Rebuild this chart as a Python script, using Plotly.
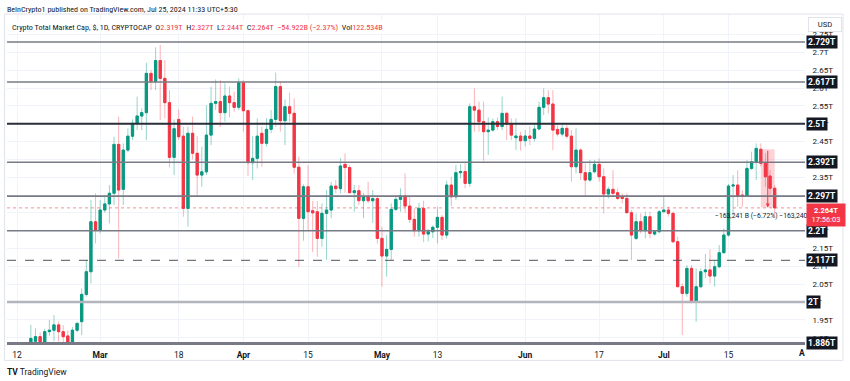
import pandas as pd
import plotly.graph_objects as go

# ---------------- data ----------------
dates = pd.date_range("2024-02-15", "2024-07-25", freq="D")

opens = [1.884,1.89,1.903,1.884,1.917,1.921,1.936,1.917,1.905,1.884,1.921,1.945,2.0215,2.085,2.225,
         2.202,2.258,2.275,2.305,2.442,2.316,2.426,2.465,2.501,2.5215,2.531,2.641,2.618,2.677,2.627,
         2.559,2.4056,2.512,2.465,2.2626,2.473,2.417,2.356,2.365,2.468,2.557,2.562,2.531,2.5776,2.559,
         2.5458,2.6149,2.5364,2.3906,2.4028,2.473,2.445,2.4841,2.512,2.604,2.5084,2.5476,2.529,2.378,
         2.2346,2.3233,2.256,2.253,2.1785,2.2486,2.258,2.325,2.318,2.386,2.377,2.3066,2.312,2.2841,
         2.295,2.2841,2.29,2.1785,2.129,2.1476,2.2598,2.2878,2.2972,2.2691,2.2318,2.2,2.2626,2.1906,
         2.197,2.2095,2.2374,2.1878,2.328,2.295,2.3626,2.366,2.3327,2.5476,2.538,2.5056,2.4776,2.482,
         2.5056,2.492,2.529,2.499,2.4607,2.4654,2.4523,2.4654,2.459,2.485,2.5458,2.5729,2.5551,2.484,
         2.471,2.4869,2.465,2.3794,2.426,2.3626,2.342,2.3654,2.386,2.3514,2.3028,2.3159,2.3065,2.2953,
         2.2906,2.2505,2.1785,2.2252,2.2,2.2392,2.1906,2.1972,2.2533,2.2579,2.2486,2.1691,2.043,2.0243,
         2.0944,2.0009,2.043,2.085,2.09,2.0729,2.099,2.1383,2.1878,2.3252,2.328,2.30,2.2972,2.3747,
         2.3934,2.4283,2.3888,2.3533,2.319]
highs = [1.936,1.926,1.915,1.925,1.95,1.964,1.945,1.935,1.92,1.93,1.945,2.038,2.1177,2.286,2.305,
         2.286,2.295,2.328,2.4635,2.5196,2.445,2.487,2.512,2.576,2.543,2.671,2.6505,2.714,2.7205,2.6785,
         2.594,2.512,2.54,2.4916,2.4916,2.52,2.465,2.4355,2.552,2.604,2.624,2.622,2.613,2.604,2.5897,
         2.6271,2.622,2.54,2.465,2.515,2.4916,2.515,2.538,2.643,2.618,2.568,2.587,2.571,2.4075,
         2.33,2.384,2.2832,2.283,2.2766,2.314,2.337,2.342,2.403,2.417,2.384,2.328,2.328,2.306,
         2.337,2.314,2.295,2.211,2.1878,2.2766,2.30,2.319,2.3607,2.295,2.2626,2.278,2.284,2.205,
         2.215,2.2673,2.244,2.34,2.351,2.384,2.387,2.389,2.557,2.599,2.562,2.562,2.5177,2.515,
         2.518,2.576,2.534,2.515,2.515,2.4776,2.482,2.492,2.496,2.562,2.599,2.594,2.594,2.496,
         2.501,2.496,2.482,2.487,2.431,2.3888,2.3981,2.398,2.4028,2.3747,2.3233,2.37,2.3187,2.3047,
         2.3047,2.2579,2.2486,2.2486,2.2533,2.2533,2.2,2.2579,2.2972,2.2673,2.2533,2.1832,2.0523,2.1037,
         2.1037,2.0944,2.0944,2.1346,2.1476,2.1177,2.1598,2.2065,2.3308,2.3561,2.37,2.3141,2.3981,2.4215,
         2.4448,2.4448,2.4168,2.37,2.327]
lows = [1.87,1.875,1.87,1.878,1.905,1.89,1.89,1.885,1.87,1.88,1.915,1.9075,2.015,2.052,2.1645,
        2.1925,2.25,2.2205,2.272,2.1224,2.272,2.42,2.454,2.482,2.482,2.454,2.594,2.594,2.51,2.515,
        2.3776,2.356,2.454,2.239,2.211,2.40,2.298,2.323,2.356,2.44,2.538,2.491,2.5056,2.5177,2.5336,
        2.538,2.4776,2.3533,2.342,2.3747,2.379,2.436,2.473,2.4916,2.4776,2.44,2.5056,2.36,2.099,
        2.172,2.202,2.14,2.127,2.155,2.118,2.235,2.305,2.305,2.306,2.305,2.253,2.272,2.235,
        2.277,2.222,2.164,2.043,2.071,2.118,2.255,2.253,2.25,2.222,2.183,2.183,2.168,2.17,
        2.18,2.1645,2.174,2.178,2.2691,2.286,2.347,2.319,2.323,2.4776,2.4776,2.3962,2.4121,2.4776,
        2.482,2.482,2.454,2.454,2.426,2.4243,2.436,2.44,2.45,2.482,2.5243,2.529,2.426,2.464,
        2.464,2.459,2.3374,2.3607,2.342,2.298,2.3374,2.3607,2.3374,2.2486,2.2906,2.2953,2.286,2.2766,
        2.2486,2.1177,2.1738,2.1925,2.1785,2.1785,2.186,2.1925,2.2505,2.2392,2.1645,2.043,1.9075,2.0149,
        1.9962,1.9448,2.0383,2.0663,2.0523,2.043,2.0944,2.1364,2.1832,2.2439,2.2673,2.2673,2.2953,2.37,
        2.342,2.3794,2.3233,2.2953,2.244]
closes = [1.898,1.903,1.884,1.917,1.921,1.936,1.917,1.903,1.884,1.921,1.94,2.0215,2.085,2.225,2.202,
          2.258,2.275,2.305,2.442,2.314,2.426,2.465,2.501,2.5215,2.531,2.641,2.618,2.677,2.627,2.559,
          2.4056,2.486,2.4635,2.2626,2.473,2.417,2.356,2.365,2.468,2.557,2.562,2.531,2.5776,2.559,2.5458,
          2.6149,2.5364,2.3906,2.4028,2.465,2.445,2.4841,2.512,2.604,2.5084,2.5476,2.529,2.378,2.2346,
          2.3233,2.2533,2.25,2.1785,2.2486,2.258,2.325,2.318,2.3813,2.377,2.3066,2.312,2.2841,2.295,
          2.2841,2.29,2.1785,2.129,2.1476,2.2598,2.2878,2.2972,2.2691,2.2318,2.2,2.2626,2.1906,2.197,
          2.2095,2.2374,2.1878,2.328,2.295,2.3626,2.366,2.3327,2.5476,2.538,2.5056,2.4776,2.482,2.5056,
          2.492,2.529,2.499,2.468,2.4654,2.4523,2.4654,2.459,2.485,2.5458,2.5729,2.5551,2.482,2.471,
          2.4869,2.465,2.3794,2.426,2.3626,2.342,2.3626,2.386,2.3514,2.3028,2.3159,2.3047,2.2906,2.2906,
          2.2505,2.1878,2.2252,2.2,2.2392,2.1925,2.1972,2.2533,2.2579,2.2486,2.1691,2.043,2.0243,2.0944,
          2.0009,2.043,2.085,2.09,2.0729,2.099,2.1383,2.1878,2.3252,2.328,2.2972,2.2972,2.3747,2.3934,
          2.4308,2.3888,2.3514,2.319,2.264]

level_values = [2.729, 2.617, 2.5, 2.392, 2.297, 2.2, 2.117, 2.0, 1.886]
level_labels = ["2.729T", "2.617T", "2.5T", "2.392T", "2.297T", "2.2T", "2.117T", "2T", "1.886T"]

x_tick_dates = ["2024-02-12", "2024-03-01", "2024-03-18", "2024-04-01", "2024-04-15", "2024-05-01",
                "2024-05-13", "2024-06-01", "2024-06-17", "2024-07-01", "2024-07-15"]
x_tick_text = ["12", "<b>Mar</b>", "18", "<b>Apr</b>", "15", "<b>May</b>", "13", "<b>Jun</b>", "17",
               "<b>Jul</b>", "15"]
y_tick_values = [1.9, 1.95, 2.0, 2.05, 2.1, 2.15, 2.2, 2.25, 2.3, 2.35, 2.4, 2.45, 2.5, 2.55, 2.6,
                 2.65, 2.7, 2.75]

range_top = 2.4283
range_bottom = 2.2651
range_start = "2024-07-22"
range_end = "2024-07-25"
range_label = "−163,241 B (−6.72%) −163,240,510"
change_text = "−54.922B (−2.37%)"
volume_text = "122.534B"
countdown = "17:56:03"

assert len(opens) == len(highs) == len(lows) == len(closes) == len(dates)

# ---------------- figure ----------------
GREEN = "#089981"
RED = "#F23645"
FONT = "Roboto"
NARROW = "Liberation Sans Narrow, Roboto Condensed, Roboto"

fig = go.Figure()

# wicks (lighter)
fig.add_trace(go.Candlestick(
    x=dates, open=opens, high=highs, low=lows, close=closes,
    increasing=dict(line=dict(color="rgba(8,153,129,0.42)", width=1), fillcolor="rgba(8,153,129,0.42)"),
    decreasing=dict(line=dict(color="rgba(242,54,69,0.38)", width=1), fillcolor="rgba(242,54,69,0.38)"),
    whiskerwidth=0, showlegend=False, hoverinfo="skip"))

# bodies (solid)
body_hi = [max(o, c) for o, c in zip(opens, closes)]
body_lo = [min(o, c) for o, c in zip(opens, closes)]
fig.add_trace(go.Candlestick(
    x=dates, open=opens, high=body_hi, low=body_lo, close=closes,
    increasing=dict(line=dict(color=GREEN, width=1), fillcolor=GREEN),
    decreasing=dict(line=dict(color=RED, width=1), fillcolor=RED),
    whiskerwidth=0, showlegend=False))

shapes = []
# measurement rectangle
shapes.append(dict(type="rect", xref="x", yref="y", x0=range_start, x1=range_end,
                   y0=range_bottom, y1=range_top, fillcolor="rgba(242,54,69,0.22)",
                   line=dict(width=0), layer="above"))
# level lines
for v in level_values:
    if v == 2.5:
        ln = dict(color="#2a2e39", width=2)
    elif v == 2.0:
        ln = dict(color="#b2b5be", width=2.5)
    elif v == 2.117:
        ln = dict(color="#50535e", width=1, dash="dash")
    else:
        ln = dict(color="#787b86", width=1.6)
    shapes.append(dict(type="line", xref="paper", yref="y", x0=0, x1=1, y0=v, y1=v,
                       line=ln, layer="above"))
# current price dotted line
shapes.append(dict(type="line", xref="paper", yref="y", x0=0, x1=1, y0=closes[-1], y1=closes[-1],
                   line=dict(color="rgba(242,54,69,0.55)", width=1, dash="dot"), layer="below"))
# panel border
shapes.append(dict(type="rect", xref="paper", yref="paper", x0=-0.003, x1=1.0476, y0=-0.053, y1=1.003,
                   line=dict(color="#e0e3eb", width=1), fillcolor="rgba(0,0,0,0)", layer="below"))

annotations = []
# measurement arrow and label (drawn first so axis labels cover any overflow)
annotations.append(dict(xref="x", yref="y", x="2024-07-23 12:00", y=range_bottom,
                        axref="x", ayref="y", ax="2024-07-23 12:00", ay=range_top,
                        showarrow=True, arrowhead=2, arrowsize=0.8, arrowwidth=1, arrowcolor=RED, text=""))
annotations.append(dict(xref="x", yref="y", x="2024-07-23 12:00", y=range_bottom, yanchor="top",
                        yshift=-3, text=range_label, showarrow=False,
                        font=dict(color="#131722", size=6.8, family=FONT)))
# right axis level labels
for v, t in zip(level_values, level_labels):
    annotations.append(dict(xref="paper", yref="y", x=1, y=v, xanchor="left", yanchor="middle",
                            xshift=1, text=f"<b>{t}</b>", showarrow=False, bgcolor="#131722",
                            font=dict(color="white", size=8.5, family=FONT), borderpad=1))
# current price label (on top)
annotations.append(dict(xref="paper", yref="y", x=1, y=closes[-1], xanchor="left", yanchor="top",
                        yshift=5, xshift=1, width=36, height=20,
                        text=f"<b>{closes[-1]:.3f}T</b><br>{countdown}", showarrow=False,
                        bgcolor=RED, font=dict(color="white", size=7.5, family=FONT), borderpad=1,
                        align="center"))
# USD box
annotations.append(dict(xref="paper", yref="paper", x=1.004, y=0.97, xanchor="left", yanchor="middle",
                        text="USD", showarrow=False, bgcolor="white", bordercolor="#e0e3eb",
                        borderwidth=1, borderpad=2, width=28,
                        font=dict(color="#131722", size=7.5, family=FONT)))
# header lines
annotations.append(dict(xref="paper", yref="paper", x=-0.002, y=1.018, xanchor="left", yanchor="middle",
                        text="BeInCrypto1 published on TradingView.com, Jul 25, 2024 11:33 UTC+5:30",
                        showarrow=False, font=dict(color="#131722", size=8, family=NARROW)))
red = lambda s: f"<span style='color:{RED}'>{s}</span>"
legend_text = ("Crypto Total Market Cap, $, 1D, CRYPTOCAP  "
               f"O{red(f'{opens[-1]:.3f}T')}  H{red(f'{highs[-1]:.3f}T')}  "
               f"L{red(f'{lows[-1]:.3f}T')}  C{red(f'{closes[-1]:.3f}T')}  "
               f"{red(change_text)}  Vol{red(volume_text)}")
annotations.append(dict(xref="paper", yref="paper", x=0.004, y=0.963, xanchor="left", yanchor="middle",
                        text=legend_text, showarrow=False, bgcolor="white",
                        font=dict(color="#131722", size=8.1, family=NARROW)))
# cut-off August label
annotations.append(dict(xref="paper", yref="paper", x=0.996, y=-0.03, xanchor="center", yanchor="middle",
                        text="<b>A</b>", showarrow=False, font=dict(color="#131722", size=8.5, family=FONT)))
# TradingView logo text
annotations.append(dict(xref="paper", yref="paper", x=-0.002, y=-0.087, xanchor="left", yanchor="middle",
                        text="<b>TV</b> TradingView", showarrow=False,
                        font=dict(color="#131722", size=8.5, family=FONT)))

fig.update_layout(
    width=850, height=381,
    margin=dict(l=7, r=45, t=15, b=38),
    paper_bgcolor="white", plot_bgcolor="white",
    font=dict(family=FONT, color="#131722"),
    showlegend=False,
    shapes=shapes, annotations=annotations,
    xaxis=dict(type="date", range=["2024-02-09 20:00", "2024-07-31 13:30"],
               rangeslider=dict(visible=False),
               tickvals=x_tick_dates, ticktext=x_tick_text,
               tickfont=dict(size=8.5, color="#131722", family=FONT),
               showgrid=True, gridcolor="#f0f3fa", gridwidth=1,
               ticks="outside", ticklen=3, tickcolor="white",
               showline=True, linecolor="#787b86", linewidth=1.5, zeroline=False),
    yaxis=dict(side="right", range=[1.8852, 2.8047],
               tickvals=y_tick_values, ticktext=[f"{v:g}T" for v in y_tick_values],
               tickfont=dict(size=8, color="#131722", family=FONT),
               showgrid=True, gridcolor="#f0f3fa", gridwidth=1,
               ticks="outside", ticklen=5, tickcolor="white",
               showline=False, zeroline=False, automargin=False),
)

fig.write_html("out.html", config={"displayModeBar": False},
               post_script="document.body.style.margin='0';document.body.style.overflow='hidden';")
